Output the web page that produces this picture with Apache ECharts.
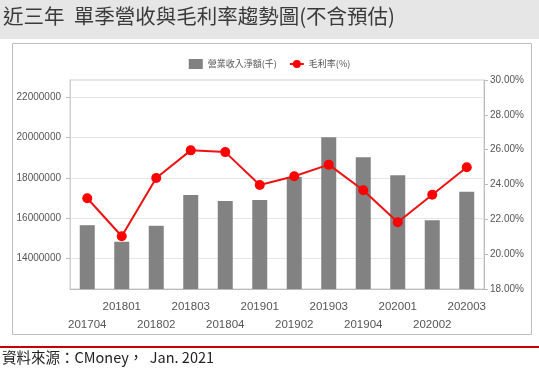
<!DOCTYPE html>
<html>
<head>
<meta charset="utf-8">
<script src="https://cdn.jsdelivr.net/npm/echarts@6/dist/echarts.min.js"></script>
<style>
html,body{margin:0;padding:0;background:#fff;}
#c{width:539px;height:371px;}
</style>
</head>
<body>
<div id="c"></div>
<script>
const categories = ['201704','201801','201802','201803','201804','201901','201902','201903','201904','202001','202002','202003'];
const revenue = [15660000,14840000,15630000,17150000,16860000,16910000,18050000,20010000,19020000,18130000,15910000,17320000];
const grossMargin = [23.21,21.03,24.37,25.96,25.86,23.97,24.47,25.14,23.67,21.83,23.41,24.99];
const leftTicks = [14000000,16000000,18000000,20000000,22000000];
const titleText = '近三年  單季營收與毛利率趨勢圖(不含預估)';
const footerText = '資料來源：CMoney，  Jan. 2021';
const seriesNames = ['營業收入淨額(千)','毛利率(%)'];

const chart = echarts.init(document.getElementById('c'));
const labelFont = '"Liberation Sans", "DejaVu Sans", sans-serif';
const cjk = '"Noto Sans CJK TC", "Noto Sans", sans-serif';
chart.setOption({
  animation: false,
  backgroundColor: '#fff',
  graphic: [
    {type:'rect', left:0, top:0, shape:{width:539, height:39}, style:{fill:'#e6e6e6'}, z:-10},
    {type:'rect', shape:{x:12.5, y:43.5, width:519, height:291}, style:{fill:'#fff', stroke:'#bdbdbd', lineWidth:1}, z:-10},
    {type:'rect', shape:{x:0, y:346, width:539, height:2}, style:{fill:'#c00000'}, z:-10},
    {type:'text', left:3, top:6, style:{text:titleText, fill:'#3a3a3a', font:'normal 20.5px ' + cjk}},
    {type:'text', left:2, top:350, style:{text:footerText, fill:'#222', font:'14.5px ' + cjk}}
  ],
  legend: {
    top: 54, left: 'center',
    itemWidth: 14, itemHeight: 10, itemGap: 12,
    textStyle: {fontSize: 9, color: '#555', fontFamily: cjk},
    data: [
      {name: seriesNames[0], icon: 'rect'},
      {name: seriesNames[1]}
    ]
  },
  grid: {left: 70, right: 55, top: 80, bottom: 82, show: true, borderColor: '#cfcfcf', borderWidth: 1},
  xAxis: {
    type: 'category',
    data: categories,
    axisLine: {lineStyle: {color: '#bbb'}},
    axisTick: {alignWithLabel: true, length: 4, lineStyle: {color: '#bbb'}},
    axisLabel: {
      interval: 0, color: '#555', fontSize: 11.5, fontFamily: labelFont, margin: 9, lineHeight: 18,
      formatter: function (v, i) { return i % 2 === 0 ? '\n' + v : v; }
    }
  },
  yAxis: [
    {
      type: 'value', min: 12500000, max: 22850000, position: 'left',
      axisLine: {show: true, lineStyle: {color: '#cfcfcf'}},
      axisTick: {show: true, length: 4, inside: false, customValues: leftTicks, lineStyle: {color: '#bbb'}},
      axisLabel: {customValues: leftTicks, color: '#555', fontSize: 10, fontFamily: labelFont, margin: 9, formatter: function (v) { return String(v); }},
      splitLine: {show: true, lineStyle: {color: '#e6e6e6'}}
    },
    {
      type: 'value', min: 18, max: 30, interval: 2, position: 'right',
      axisLine: {show: true, lineStyle: {color: '#bbb'}},
      axisTick: {show: true, length: 4, lineStyle: {color: '#bbb'}},
      axisLabel: {color: '#555', fontSize: 10, fontFamily: labelFont, margin: 6, formatter: function (v) { return v.toFixed(2) + '%'; }},
      splitLine: {show: false}
    }
  ],
  series: [
    {
      name: seriesNames[0], type: 'bar', yAxisIndex: 0, data: revenue,
      barWidth: 15, itemStyle: {color: '#828282'}
    },
    {
      name: seriesNames[1], type: 'line', yAxisIndex: 1, data: grossMargin,
      symbol: 'circle', symbolSize: 10,
      lineStyle: {color: '#ee1111', width: 2}, itemStyle: {color: '#ff0000'}
    }
  ]
});
</script>
</body>
</html>
